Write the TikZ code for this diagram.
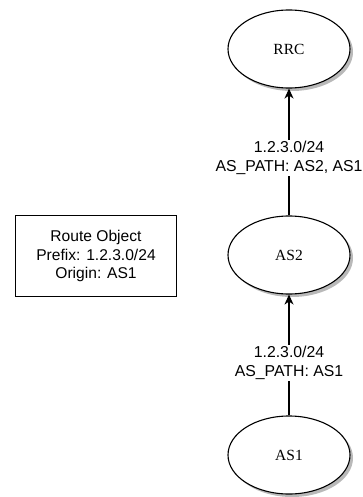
\documentclass[tikz,border=0pt]{standalone}
\usepackage{fontspec}
\setmainfont{Liberation Serif}
\newfontfamily\labelfont{Liberation Sans}
\usetikzlibrary{shapes.geometric,arrows.meta,shadows}
\begin{document}
\begin{tikzpicture}[x=1pt,y=-1pt,
  asnode/.style={ellipse,draw=black,line width=1.1pt,fill=white,minimum width=122pt,minimum height=78pt,inner sep=0pt,
    font=\fontsize{15.5}{18}\selectfont,
    drop shadow={shadow xshift=3pt,shadow yshift=-3pt,fill=black!50,opacity=0.55}},
  infobox/.style={rectangle,draw=black,line width=1.1pt,minimum width=161pt,minimum height=81pt,inner sep=0pt,align=center,
    font=\labelfont\fontsize{15.6}{18.5}\selectfont},
  conn/.style={line width=1.1pt,-{Stealth[length=10pt,width=9pt,inset=3pt]}},
  elabel/.style={fill=white,inner sep=1pt,align=center,font=\labelfont\fontsize{15.8}{19.5}\selectfont}]
\useasboundingbox (0,0) rectangle (363,497);
\node[asnode] (rrc) at (289,49) {RRC};
\node[asnode] (as2) at (289,255) {AS2};
\node[asnode] (as1) at (289,455) {AS1};
\node[infobox] (ro) at (96,256) {Route Object\\Prefix: 1.2.3.0/24\\Origin: AS1};
\draw[conn] (as1) -- node[elabel,pos=0.434] {1.2.3.0/24\\AS\_PATH: AS1} (as2);
\draw[conn] (as2) -- node[elabel,pos=0.453] {1.2.3.0/24\\AS\_PATH: AS2, AS1} (rrc);
\end{tikzpicture}
\end{document}
